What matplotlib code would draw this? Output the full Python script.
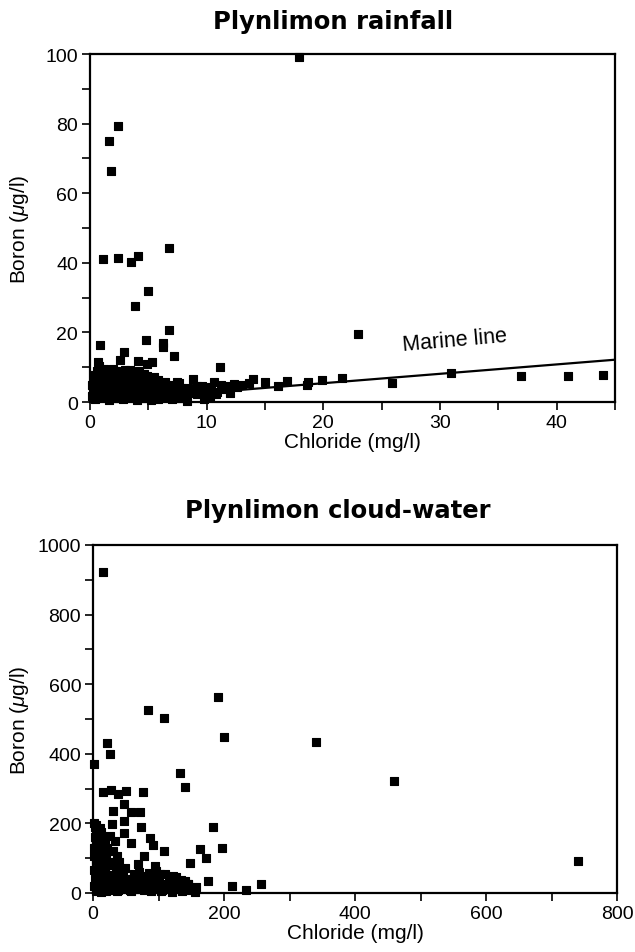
import numpy as np
import matplotlib
matplotlib.use("Agg")
import matplotlib.pyplot as plt
from matplotlib.ticker import MultipleLocator

plt.rcParams['font.family'] = ['Liberation Sans', 'DejaVu Sans']
plt.rcParams['mathtext.fontset'] = 'custom'
plt.rcParams['mathtext.it'] = 'Liberation Sans:italic'
plt.rcParams['mathtext.rm'] = 'Liberation Sans'

# Plynlimon rainfall: chloride (mg/l), boron (ug/l)
rain_cl = [17.9, 2.43, 1.65, 1.77, 1.14, 2.37, 3.48, 4.08, 6.74, 4.94, 3.86,
           0.86, 4.77, 6.28, 6.28, 6.74, 7.2, 2.94, 2.57, 0.71, 4.14, 5.29, 4.86,
           11.1, 23.0, 18.6, 19.9, 21.6, 25.9, 30.9, 36.9, 41.0, 44.0,
           14.0, 15.0, 16.9, 16.1, 18.65, 8.85, 10.6, 12.3, 7.43, 8.3, 10.3,
           # dense cluster
           0.4, 1.0, 1.6, 2.2, 2.8, 3.4, 4.0, 4.6, 5.2, 5.8, 6.4, 7.0,
           0.6, 1.2, 1.8, 2.4, 3.0, 3.6, 4.2, 4.8, 5.4, 6.0, 6.6, 7.4, 8.2,
           0.3, 0.9, 1.5, 2.1, 2.7, 3.3, 3.9, 4.5, 5.1, 5.7, 6.3, 7.0, 7.8, 9.0,
           0.5, 1.1, 1.7, 2.3, 2.9, 3.5, 4.1, 4.7, 5.3, 6.0, 6.8,
           0.7, 1.3, 1.9, 2.6, 3.2, 3.8, 4.4, 5.0, 5.8,
           0.9, 1.6, 2.4, 3.1, 3.9, 4.6, 1.2, 2.0, 3.0, 0.8,
           9.5, 11.5, 13.0, 12.0, 9.8, 10.9, 8.0, 7.6, 9.2, 11.8, 13.6,
           0.2, 0.8, 1.4, 2.0, 2.6, 3.2, 3.8, 4.4, 5.0, 5.6, 6.2, 6.8, 7.6,
           0.5, 1.1, 1.7, 2.3, 2.9, 3.5, 4.1, 4.7, 5.3, 5.9, 6.5, 7.2, 8.0, 8.8,
           0.2, 0.8, 1.4, 2.0, 2.6, 3.2, 3.8, 4.4, 5.0, 5.6, 6.2, 7.3, 8.4,
           0.4, 1.0, 1.6, 2.2, 2.8, 3.4, 4.0, 4.6, 5.5, 6.4, 7.5,
           0.3, 1.0, 1.7, 2.3, 3.0, 3.6, 4.2, 4.9, 5.5,
           0.6, 1.4, 2.2, 3.4, 4.2,
           9.6, 10.4, 11.2, 12.6, 9.2, 10.0, 10.8]
rain_b = [99.0, 79.2, 75.0, 66.5, 41.1, 41.5, 40.1, 42.0, 44.3, 31.9, 27.7,
          16.4, 17.9, 17.0, 15.8, 20.8, 13.3, 14.3, 12.1, 11.4, 11.9, 11.4, 10.9,
          10.0, 19.5, 4.9, 6.3, 6.9, 5.5, 8.2, 7.6, 7.6, 7.9,
          6.6, 5.7, 6.1, 4.7, 5.7, 6.6, 5.7, 5.2, 5.7, 0.4, 1.4,
          0.8, 1.3, 0.6, 1.1, 0.9, 1.4, 0.7, 1.2, 0.5, 1.0, 1.3, 0.8,
          2.6, 2.2, 2.8, 2.4, 2.1, 2.7, 2.5, 2.3, 2.9, 2.2, 2.6, 2.0, 2.4,
          4.1, 3.8, 4.3, 3.9, 4.2, 3.7, 4.0, 4.4, 3.8, 4.1, 3.6, 4.2, 3.9, 3.4,
          5.6, 5.3, 5.8, 5.4, 5.7, 5.2, 5.5, 5.9, 5.1, 5.4, 4.9,
          7.1, 6.8, 7.3, 6.9, 7.2, 6.7, 7.0, 6.6, 6.4,
          8.6, 8.3, 8.7, 8.2, 8.5, 8.0, 9.6, 9.4, 9.2, 10.3,
          3.5, 3.8, 5.0, 2.6, 0.8, 3.0, 3.2, 5.5, 4.6, 4.5, 5.6,
          1.8, 1.6, 2.0, 1.7, 1.9, 1.5, 1.8, 2.0, 1.6, 1.9, 1.7, 1.5, 1.2,
          3.2, 3.0, 3.4, 3.1, 3.3, 3.0, 3.2, 3.4, 2.9, 3.1, 3.3, 2.9, 3.0, 2.6,
          4.8, 4.6, 5.0, 4.7, 4.9, 4.5, 4.8, 5.0, 4.6, 4.9, 4.4, 4.3, 4.0,
          6.3, 6.1, 6.4, 6.2, 6.5, 6.0, 6.3, 6.1, 6.2, 5.8, 5.0,
          7.8, 7.6, 8.0, 7.7, 7.9, 7.5, 7.8, 7.4, 7.2,
          9.0, 9.2, 8.9, 9.1, 8.8,
          4.6, 4.2, 4.8, 4.4, 2.2, 3.0, 2.4]
marine_ratio = 0.27  # boron (ug/l) per chloride (mg/l)

# Plynlimon cloud-water: chloride (mg/l), boron (ug/l)
cloud_cl = [15.8, 1.5, 21, 26, 83.5, 109, 191, 200, 340, 460, 741, 133, 141,
            15, 27, 38, 50, 76, 30, 47, 58, 71, 28.5, 48, 48, 10, 4, 73, 183,
            33, 58, 87, 92, 109, 164, 197, 172, 148, 78, 69, 94, 49, 110, 176,
            212, 233, 256, 158, 145,
            # dense cluster
            1, 6, 12, 3, 9, 16, 2, 7, 14, 20, 4, 10, 17, 1, 6, 12, 19, 3, 8,
            15, 22, 2, 9, 5, 13, 18, 25, 21, 24, 26, 30, 36, 40, 28, 35,
            28, 34, 40, 45, 52, 58, 62, 66, 72, 78, 84, 90, 95, 100, 106, 112,
            118, 124, 130, 136, 142, 150, 155, 38, 55, 70, 88, 102, 120, 30,
            46, 60, 80, 96, 114, 126, 140, 42, 64, 86,
            3, 8, 14, 19, 5, 11, 17, 2, 7, 13, 18, 4, 10, 16, 22, 6, 12,
            20, 32, 44, 56, 68, 80, 92, 104, 116, 128, 26, 38, 50, 62, 74, 86,
            98, 110, 122, 134, 145, 15, 24, 36, 48]
cloud_b = [923, 370, 432, 399, 526, 504, 564, 447, 435, 322, 93, 346, 305,
           291, 297, 284, 294, 291, 236, 257, 234, 234, 199, 206, 173, 188, 195,
           189, 189, 148, 145, 158, 139, 121, 127, 128, 100, 86, 105, 83, 79,
           71, 55, 34, 20, 9, 25, 16, 25,
           200, 185, 175, 160, 150, 140, 130, 120, 110, 100, 95, 85, 75, 65,
           55, 48, 60, 40, 30, 35, 45, 20, 12, 5, 20, 8, 25, 130, 90, 165, 120,
           105, 90, 80, 65,
           10, 30, 50, 15, 35, 5, 55, 25, 42, 10, 30, 48, 15, 35, 8, 25, 40,
           12, 28, 5, 18, 10, 3, 8, 20, 60, 5, 55, 3, 45, 60, 40, 20, 62, 15,
           45, 35, 28, 12, 40,
           190, 178, 165, 152, 142, 128, 115, 105, 92, 80, 68, 58, 46, 36, 25,
           15, 3,
           5, 18, 38, 8, 30, 48, 22, 5, 32, 15, 52, 45, 25, 48, 15, 58, 42,
           20, 50, 38, 25, 10, 35, 5, 22]

fig = plt.figure(figsize=(6.35, 9.53), dpi=100)
ax1 = fig.add_axes([90 / 635, 1 - 403 / 953, 525 / 635, 348 / 953])
ax2 = fig.add_axes([93 / 635, 1 - 894 / 953, 524 / 635, 348 / 953])

for ax in (ax1, ax2):
    for sp in ax.spines.values():
        sp.set_linewidth(1.6)
    ax.tick_params(which='both', direction='out', length=6, width=1.2,
                   labelsize=14, pad=2.5, top=False, right=False)
    ax.set_xlabel('Chloride (mg/l)', fontsize=15, labelpad=1)
    ax.set_ylabel(r'Boron ($\mu$g/l)', fontsize=15)

# top panel
ax1.scatter(rain_cl, rain_b, marker='s', s=38, c='black', edgecolors='black',
            linewidths=0.8, clip_on=False, zorder=3)
ax1.set_xlim(0, 45)
ax1.set_ylim(0, 100)
xl = np.array(ax1.get_xlim())
ax1.plot(xl, marine_ratio * xl, color='black', lw=1.6, zorder=2)
ax1.text(31.3, 17.8, 'Marine line', fontsize=15.5, rotation=5,
         ha='center', va='center')
ax1.xaxis.set_major_locator(MultipleLocator(10))
ax1.xaxis.set_minor_locator(MultipleLocator(5))
ax1.yaxis.set_major_locator(MultipleLocator(20))
ax1.yaxis.set_minor_locator(MultipleLocator(10))
ax1.yaxis.set_label_coords(-0.112, 0.5)

# bottom panel
ax2.scatter(cloud_cl, cloud_b, marker='s', s=38, c='black', edgecolors='black',
            linewidths=0.8, clip_on=False, zorder=3)
ax2.set_xlim(0, 800)
ax2.set_ylim(0, 1000)
ax2.xaxis.set_major_locator(MultipleLocator(200))
ax2.xaxis.set_minor_locator(MultipleLocator(100))
ax2.yaxis.set_major_locator(MultipleLocator(200))
ax2.yaxis.set_minor_locator(MultipleLocator(100))
ax2.yaxis.set_label_coords(-0.118, 0.5)

fig.text(333 / 635, 1 - 29 / 953, 'Plynlimon rainfall', fontsize=17.5,
         fontweight='bold', family='DejaVu Sans', ha='center', va='baseline')
fig.text(338 / 635, 1 - 518 / 953, 'Plynlimon cloud-water', fontsize=17.5,
         fontweight='bold', family='DejaVu Sans', ha='center', va='baseline')

fig.savefig('out.png', dpi=100)
